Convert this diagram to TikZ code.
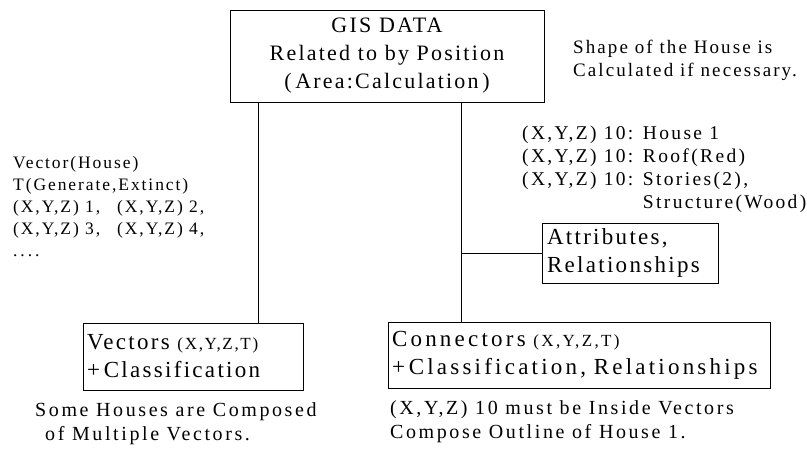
\documentclass[tikz,border=0pt]{standalone}
\usepackage{fontspec}
\setmainfont{Liberation Serif}[LetterSpace=10]
\begin{document}
\begin{tikzpicture}[x=1pt,y=-1pt,
  box/.style={draw,line width=0.9pt,inner sep=0pt},
  big/.style={font=\fontsize{22}{28}\selectfont},
  mid/.style={font=\fontsize{23}{28}\selectfont},
  small/.style={font=\fontsize{18.5}{23}\selectfont},
  llist/.style={font=\fontsize{17.5}{22}\selectfont\addfontfeature{LetterSpace=11}},
  rlist/.style={font=\fontsize{19.5}{23}\selectfont\addfontfeature{LetterSpace=12}},
  note/.style={font=\fontsize{20}{24}\selectfont\addfontfeature{LetterSpace=13}},
  txt/.style={anchor=base west,inner sep=0pt,small},
  wire/.style={line width=0.8pt}]
\useasboundingbox (0,0) rectangle (807,461);
% boxes
\node[box,big,minimum width=314pt,minimum height=92pt,align=center] (gis) at (387,56)
  {GIS DATA\\Related to by Position\\(\,Area:Calculation\,)};
\node[box,mid,minimum width=176pt,minimum height=60pt,align=left,text width=166pt] (attr) at (630,253)
  {Attributes,\\Relationships};
\node[box,mid,minimum width=220pt,minimum height=67pt,align=left,text width=212pt] (vec) at (193,356.5)
  {Vectors {\fontsize{17}{18}\selectfont(X,Y,Z,T)}\\+\,Classification};
\node[box,mid,minimum width=382pt,minimum height=66pt,align=left,text width=374pt,
  font=\fontsize{23}{28}\selectfont\addfontfeature{LetterSpace=14}] (con) at (579,355)
  {Connectors {\fontsize{17}{18}\selectfont(X,Y,Z,T)}\\+\,Classification, Relationships};
% connectors
\coordinate (L) at (258,102);
\coordinate (R) at (461,102);
\draw[wire] (gis.south -| L) -- (vec.north -| L);
\draw[wire] (gis.south -| R) -- (con.north -| R);
\draw[wire] (attr.west) -- (attr.west -| R);
% texts
\node[txt,font=\fontsize{19}{23}\selectfont\addfontfeature{LetterSpace=11}] (s1) at (573,53) {Shape of the House is};
\node[txt,font=\fontsize{19}{23}\selectfont\addfontfeature{LetterSpace=11}] (s2) at (573,76) {Calculated if necessary.};
\node[txt,rlist] (r1) at (522,139) {(X,Y,Z) 10: House 1};
\node[txt,rlist] (r2) at (522,162) {(X,Y,Z) 10: Roof(Red)};
\node[txt,rlist] (r3) at (522,185) {(X,Y,Z) 10: Stories(2),};
\node[txt,rlist] (r4) at (522,208) {\phantom{(X,Y,Z) 10: }Structure(Wood)};
\node[txt,llist] (l1) at (13,168) {Vector(House)};
\node[txt,llist] (l2) at (13,190) {T(Generate,Extinct)};
\node[txt,llist] (l3) at (13,212) {\makebox[104pt][l]{(X,Y,Z) 1,}(X,Y,Z) 2,};
\node[txt,llist] (l4) at (13,234) {\makebox[104pt][l]{(X,Y,Z) 3,}(X,Y,Z) 4,};
\node[txt,llist] (l5) at (13,256) {.\,.\,.\,.};
\node[txt,note] (b1) at (35,416) {Some Houses are Composed};
\node[txt,note] (b2) at (45,440) {of Multiple Vectors.};
\node[txt,note] (c1) at (390,414) {(X,Y,Z) 10 must be Inside Vectors};
\node[txt,note] (c2) at (390,438) {Compose Outline of House 1.};
\end{tikzpicture}
\end{document}
